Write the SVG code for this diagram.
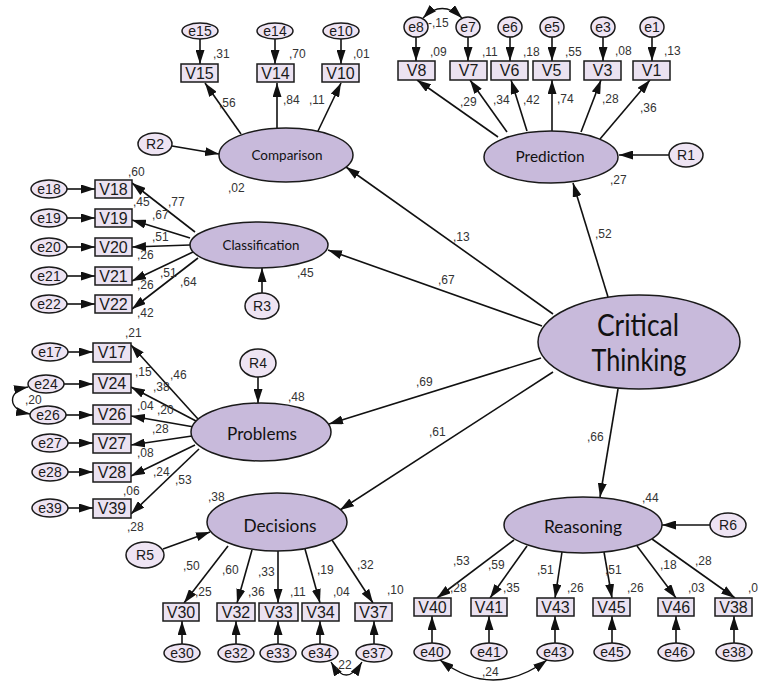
<svg xmlns="http://www.w3.org/2000/svg" width="759" height="683" viewBox="0 0 759 683">
<style>
.lat{fill:#c8badb;stroke:#1a1a1a;stroke-width:1.5}
.err{fill:#eee4f3;stroke:#1a1a1a;stroke-width:1.5}
.obs{fill:#ebe2f1;stroke:#1a1a1a;stroke-width:1.5}
.c{stroke:#111;stroke-width:1.6;fill:none;marker-end:url(#a)}
.cc{stroke:#111;stroke-width:1.4;fill:none;marker-end:url(#a);marker-start:url(#a)}
.lb{font-family:"Liberation Sans",Arial,sans-serif;font-size:12px;fill:#333}
.bt{font-family:"Liberation Sans",Arial,sans-serif;font-size:16px;fill:#1a1a1a;text-anchor:middle}
.et{font-family:"Liberation Sans",Arial,sans-serif;font-size:14px;fill:#1a1a1a;text-anchor:middle}
.lt{font-family:Lato,"Open Sans",sans-serif;fill:#111;text-anchor:middle}
</style>
<defs>
<marker id="a" viewBox="0 0 14 9" refX="14" refY="4.5" markerWidth="14" markerHeight="9" markerUnits="userSpaceOnUse" orient="auto-start-reverse"><path d="M0,0L14,4.5L0,9z" fill="#111"/></marker>
</defs>
<rect width="759" height="683" fill="#fff"/>

<g id="connectors">
<line class="c" x1="553" y1="314" x2="346" y2="167"/>
<line class="c" x1="542" y1="326" x2="328" y2="250"/>
<line class="c" x1="608" y1="297" x2="573" y2="183"/>
<line class="c" x1="541" y1="358" x2="329" y2="424"/>
<line class="c" x1="553" y1="372" x2="340" y2="510"/>
<line class="c" x1="618" y1="389" x2="600" y2="497"/>
<line class="c" x1="172" y1="146" x2="219" y2="154"/>
<line class="c" x1="241" y1="134" x2="205" y2="83"/>
<line class="c" x1="277" y1="128" x2="277" y2="83"/>
<line class="c" x1="318" y1="131" x2="341" y2="83"/>
<line class="c" x1="200" y1="39" x2="200" y2="64"/>
<line class="c" x1="275" y1="39" x2="275" y2="64"/>
<line class="c" x1="341" y1="39" x2="341" y2="64"/>
<line class="c" x1="669" y1="155" x2="619" y2="155"/>
<line class="c" x1="498" y1="137" x2="417" y2="80"/>
<line class="c" x1="507" y1="132" x2="470" y2="80"/>
<line class="c" x1="527" y1="131" x2="511" y2="80"/>
<line class="c" x1="552" y1="131" x2="552" y2="80"/>
<line class="c" x1="581" y1="132" x2="601" y2="80"/>
<line class="c" x1="600" y1="139" x2="650" y2="80"/>
<line class="c" x1="416" y1="37" x2="416" y2="61"/>
<line class="c" x1="468" y1="37" x2="468" y2="61"/>
<line class="c" x1="510" y1="37" x2="510" y2="61"/>
<line class="c" x1="552" y1="37" x2="552" y2="61"/>
<line class="c" x1="603" y1="37" x2="603" y2="61"/>
<line class="c" x1="652" y1="37" x2="652" y2="61"/>
<path class="cc" d="M423,18 Q442,-1 462,18"/>
<line class="c" x1="262" y1="293" x2="262" y2="268"/>
<line class="c" x1="195" y1="232" x2="132" y2="183"/>
<line class="c" x1="190" y1="238" x2="132" y2="220"/>
<line class="c" x1="190" y1="245" x2="132" y2="247"/>
<line class="c" x1="193" y1="252" x2="132" y2="281"/>
<line class="c" x1="198" y1="258" x2="132" y2="309"/>
<line class="c" x1="67" y1="189" x2="95" y2="189"/>
<line class="c" x1="67" y1="218" x2="95" y2="218"/>
<line class="c" x1="67" y1="247" x2="95" y2="247"/>
<line class="c" x1="67" y1="276" x2="95" y2="276"/>
<line class="c" x1="67" y1="304" x2="95" y2="304"/>
<line class="c" x1="258" y1="377" x2="258" y2="403"/>
<line class="c" x1="198" y1="419" x2="131" y2="345"/>
<line class="c" x1="196" y1="421" x2="131" y2="387"/>
<line class="c" x1="194" y1="427" x2="131" y2="416"/>
<line class="c" x1="192" y1="436" x2="131" y2="445"/>
<line class="c" x1="195" y1="445" x2="131" y2="476"/>
<line class="c" x1="199" y1="449" x2="131" y2="514"/>
<line class="c" x1="68" y1="352" x2="93" y2="352"/>
<line class="c" x1="64" y1="384" x2="93" y2="384"/>
<line class="c" x1="66" y1="415" x2="93" y2="415"/>
<line class="c" x1="68" y1="443" x2="93" y2="443"/>
<line class="c" x1="68" y1="472" x2="93" y2="472"/>
<line class="c" x1="68" y1="508" x2="93" y2="508"/>
<path class="cc" d="M28,387 C7,391 7,410 30,414"/>
<line class="c" x1="163" y1="549" x2="210" y2="532"/>
<line class="c" x1="228" y1="546" x2="184" y2="603"/>
<line class="c" x1="252" y1="550" x2="237" y2="603"/>
<line class="c" x1="278" y1="551" x2="278" y2="603"/>
<line class="c" x1="305" y1="549" x2="320" y2="603"/>
<line class="c" x1="332" y1="540" x2="373" y2="603"/>
<line class="c" x1="182" y1="644" x2="182" y2="621"/>
<line class="c" x1="236" y1="644" x2="236" y2="621"/>
<line class="c" x1="278" y1="644" x2="278" y2="621"/>
<line class="c" x1="320" y1="644" x2="320" y2="621"/>
<line class="c" x1="374" y1="644" x2="374" y2="621"/>
<path class="cc" d="M331,662 Q346,688 362,662"/>
<line class="c" x1="710" y1="525" x2="662" y2="525"/>
<line class="c" x1="514" y1="540" x2="437" y2="598"/>
<line class="c" x1="527" y1="546" x2="490" y2="598"/>
<line class="c" x1="562" y1="552" x2="555" y2="598"/>
<line class="c" x1="604" y1="552" x2="612" y2="598"/>
<line class="c" x1="637" y1="546" x2="676" y2="598"/>
<line class="c" x1="652" y1="539" x2="735" y2="598"/>
<line class="c" x1="432" y1="643" x2="432" y2="616"/>
<line class="c" x1="489" y1="643" x2="489" y2="616"/>
<line class="c" x1="555" y1="643" x2="555" y2="616"/>
<line class="c" x1="612" y1="643" x2="612" y2="616"/>
<line class="c" x1="676" y1="643" x2="676" y2="616"/>
<line class="c" x1="734" y1="643" x2="734" y2="616"/>
<path class="cc" d="M440,660 Q493,700 547,660"/>
</g>

<g id="labels" class="lb">
<text x="453" y="241">,13</text>
<text x="438" y="284">,67</text>
<text x="595" y="238">,52</text>
<text x="416" y="386">,69</text>
<text x="429" y="436">,61</text>
<text x="587" y="441">,66</text>
<text x="213" y="58">,31</text>
<text x="289" y="58">,70</text>
<text x="353" y="58">,01</text>
<text x="219" y="107">,56</text>
<text x="283" y="104">,84</text>
<text x="309" y="104">,11</text>
<text x="228" y="192">,02</text>
<text x="430" y="56">,09</text>
<text x="482" y="56">,11</text>
<text x="523" y="56">,18</text>
<text x="565" y="56">,55</text>
<text x="615" y="55">,08</text>
<text x="664" y="55">,13</text>
<text x="428" y="27">-,15</text>
<text x="460" y="106">,29</text>
<text x="493" y="104">,34</text>
<text x="523" y="104">,42</text>
<text x="557" y="103">,74</text>
<text x="602" y="103">,28</text>
<text x="640" y="112">,36</text>
<text x="610" y="184">,27</text>
<text x="128" y="176">,60</text>
<text x="168" y="206">,77</text>
<text x="133" y="206">,45</text>
<text x="152" y="219">,67</text>
<text x="152" y="241">,51</text>
<text x="137" y="259">,26</text>
<text x="160" y="277">,51</text>
<text x="180" y="286">,64</text>
<text x="137" y="289">,26</text>
<text x="137" y="317">,42</text>
<text x="297" y="277">,45</text>
<text x="125" y="337">,21</text>
<text x="170" y="379">,46</text>
<text x="135" y="376">,15</text>
<text x="153" y="391">,38</text>
<text x="137" y="410">,04</text>
<text x="157" y="414">,20</text>
<text x="152" y="433">,28</text>
<text x="137" y="457">,08</text>
<text x="153" y="476">,24</text>
<text x="175" y="484">,53</text>
<text x="123" y="495">,06</text>
<text x="127" y="531">,28</text>
<text x="288" y="401">,48</text>
<text x="25" y="404">,20</text>
<text x="208" y="501">,38</text>
<text x="183" y="570">,50</text>
<text x="222" y="574">,60</text>
<text x="258" y="576">,33</text>
<text x="317" y="574">,19</text>
<text x="357" y="569">,32</text>
<text x="195" y="596">,25</text>
<text x="248" y="596">,36</text>
<text x="290" y="596">,11</text>
<text x="333" y="596">,04</text>
<text x="387" y="594">,10</text>
<text x="335" y="669">,22</text>
<text x="642" y="502">,44</text>
<text x="453" y="565">,53</text>
<text x="488" y="569">,59</text>
<text x="537" y="574">,51</text>
<text x="605" y="574">,51</text>
<text x="660" y="569">,18</text>
<text x="695" y="565">,28</text>
<text x="450" y="592">,28</text>
<text x="503" y="592">,35</text>
<text x="567" y="592">,26</text>
<text x="627" y="592">,26</text>
<text x="688" y="592">,03</text>
<text x="748" y="592">,0</text>
<text x="482" y="676">,24</text>
</g>

<g id="CriticalThinking"><ellipse class="lat" cx="639" cy="342" rx="101" ry="47"/><text class="lt" font-size="30" x="638" y="336" textLength="82" lengthAdjust="spacingAndGlyphs">Critical</text><text class="lt" font-size="30" x="639" y="371" textLength="95" lengthAdjust="spacingAndGlyphs">Thinking</text></g>
<g id="Comparison"><ellipse class="lat" cx="286" cy="155" rx="67" ry="27"/><text class="lt" font-size="13" x="287" y="160" textLength="71" lengthAdjust="spacingAndGlyphs">Comparison</text></g>
<g id="Prediction"><ellipse class="lat" cx="551" cy="157" rx="67" ry="26"/><text class="lt" font-size="15" x="550" y="162" textLength="69" lengthAdjust="spacingAndGlyphs">Prediction</text></g>
<g id="Classification"><ellipse class="lat" cx="259" cy="245" rx="69" ry="23"/><text class="lt" font-size="14" x="261" y="250" textLength="77" lengthAdjust="spacingAndGlyphs">Classification</text></g>
<g id="Problems"><ellipse class="lat" cx="261" cy="432" rx="70" ry="29"/><text class="lt" font-size="18" x="262" y="440" textLength="70" lengthAdjust="spacingAndGlyphs">Problems</text></g>
<g id="Decisions"><ellipse class="lat" cx="277" cy="522" rx="70" ry="29"/><text class="lt" font-size="18" x="280" y="532" textLength="73" lengthAdjust="spacingAndGlyphs">Decisions</text></g>
<g id="Reasoning"><ellipse class="lat" cx="583" cy="525" rx="79" ry="28"/><text class="lt" font-size="18" x="583" y="533" textLength="78" lengthAdjust="spacingAndGlyphs">Reasoning</text></g>

<g id="R1"><ellipse class="err" cx="686" cy="155" rx="17" ry="12"/><text class="et" x="686" y="160">R1</text></g>
<g id="R2"><ellipse class="err" cx="155" cy="144" rx="17" ry="11"/><text class="et" x="155" y="149">R2</text></g>
<g id="R3"><ellipse class="err" cx="262" cy="306" rx="17" ry="13"/><text class="et" x="262" y="311">R3</text></g>
<g id="R4"><ellipse class="err" cx="258" cy="363" rx="18" ry="14"/><text class="et" x="258" y="368">R4</text></g>
<g id="R5"><ellipse class="err" cx="145" cy="555" rx="19" ry="13"/><text class="et" x="145" y="560">R5</text></g>
<g id="R6"><ellipse class="err" cx="728" cy="525" rx="18" ry="12"/><text class="et" x="728" y="530">R6</text></g>

<g id="V15"><rect class="obs" x="181" y="64" width="37" height="18"/><text class="bt" x="199.5" y="79">V15</text></g>
<g id="V14"><rect class="obs" x="257" y="64" width="37" height="18"/><text class="bt" x="275.5" y="79">V14</text></g>
<g id="V10"><rect class="obs" x="322" y="64" width="37" height="18"/><text class="bt" x="340.5" y="79">V10</text></g>
<g id="e15"><ellipse class="err" cx="200" cy="31" rx="18" ry="8"/><text class="et" x="200" y="36">e15</text></g>
<g id="e14"><ellipse class="err" cx="275" cy="31" rx="18" ry="8"/><text class="et" x="275" y="36">e14</text></g>
<g id="e10"><ellipse class="err" cx="341" cy="31" rx="18" ry="8"/><text class="et" x="341" y="36">e10</text></g>

<g id="V8"><rect class="obs" x="398" y="61" width="37" height="19"/><text class="bt" x="416.5" y="76">V8</text></g>
<g id="V7"><rect class="obs" x="450" y="61" width="37" height="19"/><text class="bt" x="468.5" y="76">V7</text></g>
<g id="V6"><rect class="obs" x="491" y="61" width="37" height="19"/><text class="bt" x="509.5" y="76">V6</text></g>
<g id="V5"><rect class="obs" x="533" y="61" width="37" height="19"/><text class="bt" x="551.5" y="76">V5</text></g>
<g id="V3"><rect class="obs" x="584" y="61" width="37" height="19"/><text class="bt" x="602.5" y="76">V3</text></g>
<g id="V1"><rect class="obs" x="633" y="61" width="37" height="19"/><text class="bt" x="651.5" y="76">V1</text></g>
<g id="e8"><ellipse class="err" cx="416" cy="27" rx="12" ry="10"/><text class="et" x="416" y="32">e8</text></g>
<g id="e7"><ellipse class="err" cx="468" cy="27" rx="12" ry="10"/><text class="et" x="468" y="32">e7</text></g>
<g id="e6"><ellipse class="err" cx="510" cy="27" rx="12" ry="10"/><text class="et" x="510" y="32">e6</text></g>
<g id="e5"><ellipse class="err" cx="552" cy="27" rx="12" ry="10"/><text class="et" x="552" y="32">e5</text></g>
<g id="e3"><ellipse class="err" cx="603" cy="27" rx="12" ry="10"/><text class="et" x="603" y="32">e3</text></g>
<g id="e1"><ellipse class="err" cx="652" cy="27" rx="12" ry="10"/><text class="et" x="652" y="32">e1</text></g>

<g id="V18"><rect class="obs" x="95" y="180" width="37" height="18"/><text class="bt" x="113.5" y="195">V18</text></g>
<g id="V19"><rect class="obs" x="95" y="209" width="37" height="18"/><text class="bt" x="113.5" y="224">V19</text></g>
<g id="V20"><rect class="obs" x="95" y="238" width="37" height="18"/><text class="bt" x="113.5" y="253">V20</text></g>
<g id="V21"><rect class="obs" x="95" y="267" width="37" height="18"/><text class="bt" x="113.5" y="282">V21</text></g>
<g id="V22"><rect class="obs" x="95" y="295" width="37" height="18"/><text class="bt" x="113.5" y="310">V22</text></g>
<g id="e18"><ellipse class="err" cx="49" cy="189" rx="18" ry="9"/><text class="et" x="49" y="194">e18</text></g>
<g id="e19"><ellipse class="err" cx="49" cy="218" rx="18" ry="9"/><text class="et" x="49" y="223">e19</text></g>
<g id="e20"><ellipse class="err" cx="49" cy="247" rx="18" ry="9"/><text class="et" x="49" y="252">e20</text></g>
<g id="e21"><ellipse class="err" cx="49" cy="276" rx="18" ry="9"/><text class="et" x="49" y="281">e21</text></g>
<g id="e22"><ellipse class="err" cx="49" cy="304" rx="18" ry="9"/><text class="et" x="49" y="309">e22</text></g>

<g id="V17"><rect class="obs" x="93" y="343" width="38" height="19"/><text class="bt" x="112" y="358">V17</text></g>
<g id="V24"><rect class="obs" x="93" y="374" width="38" height="19"/><text class="bt" x="112" y="389">V24</text></g>
<g id="V26"><rect class="obs" x="93" y="405" width="38" height="19"/><text class="bt" x="112" y="420">V26</text></g>
<g id="V27"><rect class="obs" x="93" y="434" width="38" height="19"/><text class="bt" x="112" y="449">V27</text></g>
<g id="V28"><rect class="obs" x="93" y="463" width="38" height="19"/><text class="bt" x="112" y="478">V28</text></g>
<g id="V39"><rect class="obs" x="93" y="499" width="38" height="19"/><text class="bt" x="112" y="514">V39</text></g>
<g id="e17"><ellipse class="err" cx="50" cy="352" rx="18" ry="9"/><text class="et" x="50" y="357">e17</text></g>
<g id="e24"><ellipse class="err" cx="46" cy="384" rx="18" ry="9"/><text class="et" x="46" y="389">e24</text></g>
<g id="e26"><ellipse class="err" cx="48" cy="415" rx="18" ry="9"/><text class="et" x="48" y="420">e26</text></g>
<g id="e27"><ellipse class="err" cx="50" cy="443" rx="18" ry="9"/><text class="et" x="50" y="448">e27</text></g>
<g id="e28"><ellipse class="err" cx="50" cy="472" rx="18" ry="9"/><text class="et" x="50" y="477">e28</text></g>
<g id="e39"><ellipse class="err" cx="50" cy="508" rx="18" ry="9"/><text class="et" x="50" y="513">e39</text></g>

<g id="V30"><rect class="obs" x="163" y="603" width="36" height="18"/><text class="bt" x="181" y="618">V30</text></g>
<g id="V32"><rect class="obs" x="217" y="603" width="38" height="18"/><text class="bt" x="236" y="618">V32</text></g>
<g id="V33"><rect class="obs" x="259" y="603" width="39" height="18"/><text class="bt" x="278.5" y="618">V33</text></g>
<g id="V34"><rect class="obs" x="302" y="603" width="37" height="18"/><text class="bt" x="320.5" y="618">V34</text></g>
<g id="V37"><rect class="obs" x="355" y="603" width="37" height="18"/><text class="bt" x="373.5" y="618">V37</text></g>
<g id="e30"><ellipse class="err" cx="182" cy="653" rx="18" ry="9"/><text class="et" x="182" y="658">e30</text></g>
<g id="e32"><ellipse class="err" cx="236" cy="653" rx="18" ry="9"/><text class="et" x="236" y="658">e32</text></g>
<g id="e33"><ellipse class="err" cx="278" cy="653" rx="18" ry="9"/><text class="et" x="278" y="658">e33</text></g>
<g id="e34"><ellipse class="err" cx="320" cy="653" rx="18" ry="9"/><text class="et" x="320" y="658">e34</text></g>
<g id="e37"><ellipse class="err" cx="374" cy="653" rx="18" ry="9"/><text class="et" x="374" y="658">e37</text></g>

<g id="V40"><rect class="obs" x="414" y="598" width="37" height="18"/><text class="bt" x="432.5" y="613">V40</text></g>
<g id="V41"><rect class="obs" x="471" y="598" width="36" height="18"/><text class="bt" x="489" y="613">V41</text></g>
<g id="V43"><rect class="obs" x="537" y="598" width="37" height="18"/><text class="bt" x="555.5" y="613">V43</text></g>
<g id="V45"><rect class="obs" x="593" y="598" width="37" height="18"/><text class="bt" x="611.5" y="613">V45</text></g>
<g id="V46"><rect class="obs" x="658" y="598" width="36" height="18"/><text class="bt" x="676" y="613">V46</text></g>
<g id="V38"><rect class="obs" x="715" y="598" width="37" height="18"/><text class="bt" x="733.5" y="613">V38</text></g>
<g id="e40"><ellipse class="err" cx="432" cy="652" rx="18" ry="9"/><text class="et" x="432" y="657">e40</text></g>
<g id="e41"><ellipse class="err" cx="489" cy="652" rx="18" ry="9"/><text class="et" x="489" y="657">e41</text></g>
<g id="e43"><ellipse class="err" cx="555" cy="652" rx="18" ry="9"/><text class="et" x="555" y="657">e43</text></g>
<g id="e45"><ellipse class="err" cx="612" cy="652" rx="18" ry="9"/><text class="et" x="612" y="657">e45</text></g>
<g id="e46"><ellipse class="err" cx="676" cy="652" rx="18" ry="9"/><text class="et" x="676" y="657">e46</text></g>
<g id="e38"><ellipse class="err" cx="734" cy="652" rx="18" ry="9"/><text class="et" x="734" y="657">e38</text></g>
</svg>
